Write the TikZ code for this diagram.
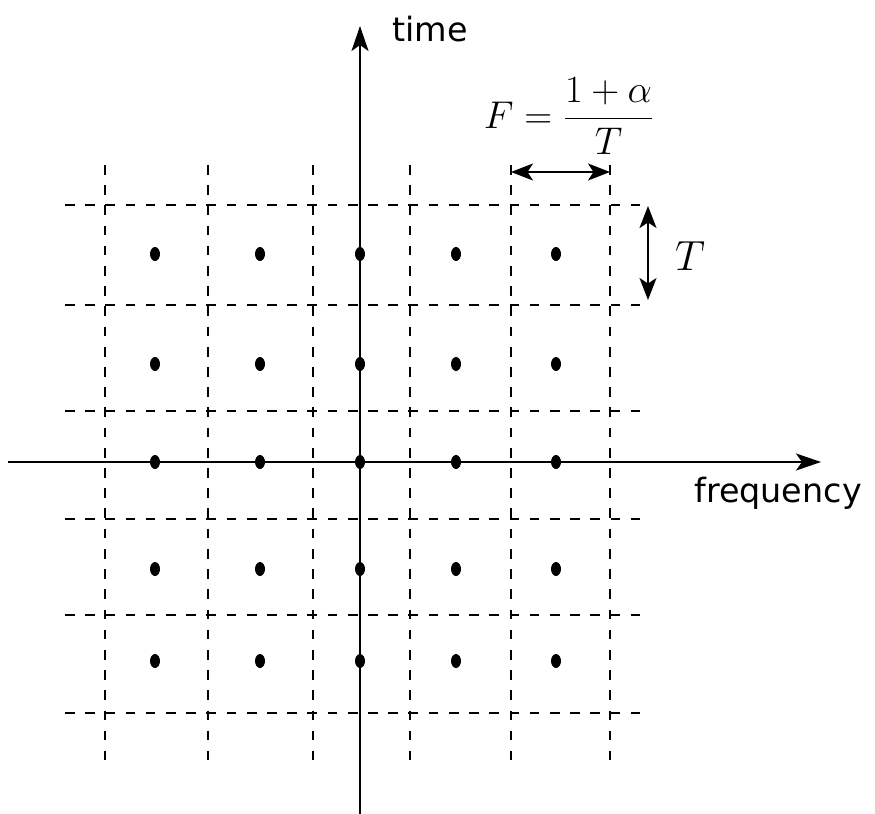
\documentclass[tikz,border=0pt]{standalone}
\usepackage{fix-cm}
\usepackage{amsmath}
\usepackage{fontspec}
\setsansfont{DejaVu Sans}
\usetikzlibrary{arrows.meta, positioning}

\begin{document}
\begin{tikzpicture}[x=0.02cm, y=-0.02cm,
    >={Stealth[length=0.5cm,width=0.34cm,inset=0.12cm]}]
  \tikzset{
    gridline/.style={
      draw=black,
      line width=1.1pt,
      dash pattern=on 5.5pt off 6pt},
    axis/.style={
      draw=black,
      line width=1.1pt,
      ->},
    span/.style={
      draw=black,
      line width=1.1pt,
      {Stealth[length=0.44cm,width=0.34cm,inset=0.11cm]}-{Stealth[length=0.44cm,width=0.34cm,inset=0.11cm]}},
    lbl/.style={
      font=\sffamily\fontsize{19}{22}\selectfont,
      inner sep=0pt},
    mathlbl/.style={
      font=\fontsize{22}{26}\selectfont}}

  \useasboundingbox (0,0) rectangle (875,814);

  % dashed lattice
  \foreach \x in {105,208,313,410,511,610}
    \draw[gridline] (\x,165) -- (\x,760);
  \foreach \y in {205,305,411,519,615,713}
    \draw[gridline] (65,\y) -- (648,\y);

  % axes
  \coordinate (tbot) at (360,814);
  \coordinate (ttop) at (360,26);
  \coordinate (fleft) at (8,462);
  \coordinate (fright) at (821,462);
  \draw[axis] (tbot) -- (ttop);
  \draw[axis] (fleft) -- (fright);

  % lattice points
  \foreach \x in {155,260,360,456,556}
    \foreach \y in {254,364,462,569,661}
      \fill (\x,\y) ellipse [x radius=0.1cm, y radius=0.14cm];

  % spacings
  \coordinate (fa) at (511,172);
  \coordinate (fb) at (610,172);
  \coordinate (ta) at (648,206);
  \coordinate (tb) at (648,300);
  \draw[span] (fa) -- (fb);
  \draw[span] (ta) -- (tb);

  \node[lbl, anchor=base] (timelbl) at (430,42) {time};
  \node[lbl, anchor=base] (freqlbl) at (778,502) {frequency};
  \node[mathlbl] (flbl) at (569,116) {$F = \dfrac{1+\alpha}{T}$};
  \node[mathlbl, font=\fontsize{24}{28}\selectfont] (tlbl) at (690,256) {$T$};

\end{tikzpicture}
\end{document}
